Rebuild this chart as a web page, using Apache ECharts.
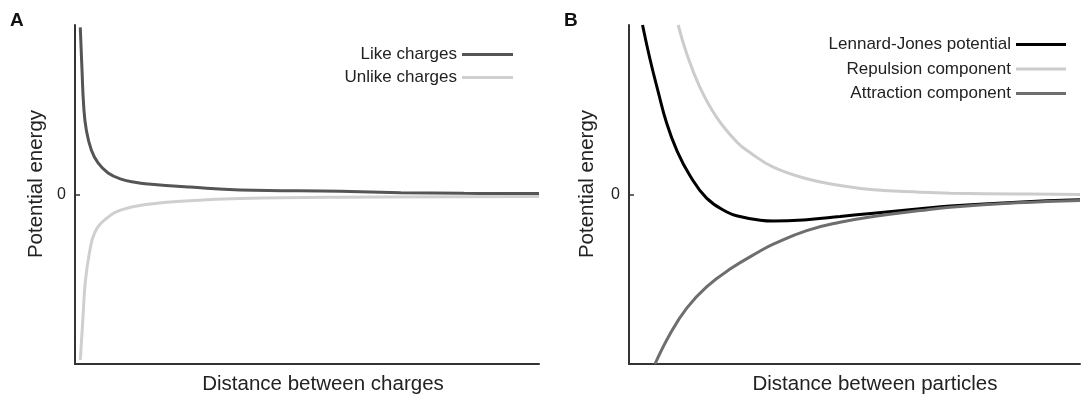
<!DOCTYPE html>
<html>
<head>
<meta charset="utf-8">
<script src="https://cdn.jsdelivr.net/npm/echarts@6/dist/echarts.min.js"></script>
<style>
html,body{margin:0;padding:0;background:#fff;}
#chart{width:1081px;height:397px;}
</style>
</head>
<body>
<div id="chart"></div>
<script>
// ---- data (x: 0..100 across axis, y: -1..1) ----
const likeCharges = [[1.14,0.986],[1.51,0.735],[1.88,0.518],[2.44,0.380],[3.52,0.263],[4.97,0.186],[7.13,0.127],[9.94,0.091],[12.9,0.072],[15.8,0.062],[24.8,0.044],[35.6,0.027],[57.2,0.019],[70.2,0.011],[83.8,0.007],[100,0.006]];
const unlikeCharges = [[1.14,-0.976],[1.73,-0.721],[2.22,-0.515],[3.15,-0.338],[4.23,-0.227],[6.39,-0.150],[9.98,-0.091],[15.8,-0.058],[24.8,-0.037],[35.6,-0.024],[57.2,-0.016],[100,-0.012]];
const lennardJones = [[3.0,1.0],[4.66,0.798],[6.5,0.603],[8.36,0.420],[10.6,0.260],[13.5,0.112],[17.2,-0.021],[21.7,-0.103],[24.6,-0.130],[29.1,-0.152],[32.0,-0.157],[39.4,-0.149],[46.8,-0.130],[54.2,-0.110],[64.5,-0.084],[71.2,-0.068],[86.0,-0.045],[100,-0.031]];
const repulsion = [[10.9,1.0],[12.8,0.831],[15.7,0.634],[19.4,0.457],[23.9,0.31],[26.8,0.248],[32.0,0.161],[39.4,0.093],[46.8,0.053],[54.2,0.028],[64.5,0.014],[71.2,0.008],[86.0,0.003],[100,0.0]];
const attraction = [[5.76,-1.0],[9.1,-0.823],[12.8,-0.67],[17.2,-0.545],[22.4,-0.44],[29.0,-0.335],[32.0,-0.293],[39.4,-0.213],[46.8,-0.164],[54.2,-0.130],[64.5,-0.095],[71.2,-0.075],[86.0,-0.049],[100,-0.035]];
const yTickValues = [0];
const panelLabels = ['A','B'];
const xTitles = ['Distance between charges','Distance between particles'];
const yTitle = 'Potential energy';
const legendA = ['Like charges','Unlike charges'];
const legendB = ['Lennard-Jones potential','Repulsion component','Attraction component'];

const FONT = '"Liberation Sans", Arial, Helvetica, sans-serif';
const AX = '#333';

function xAxis(idx){
  return {type:'value', gridIndex:idx, min:0, max:100,
    axisLine:{show:true,onZero:false,lineStyle:{color:AX,width:2}},
    axisTick:{show:false}, axisLabel:{show:false}, splitLine:{show:false}};
}
function yAxis(idx){
  return {type:'value', gridIndex:idx, min:-1, max:1, interval:1,
    axisLine:{show:true,onZero:false,lineStyle:{color:AX,width:2}},
    axisTick:{show:true,inside:true,length:5,customValues:yTickValues,lineStyle:{color:AX,width:1.5}},
    axisLabel:{show:true,customValues:yTickValues,margin:9,fontSize:16,color:'#222',fontFamily:FONT},
    splitLine:{show:false}};
}
function line(name, data, color, idx){
  return {type:'line', name:name, data:data, xAxisIndex:idx, yAxisIndex:idx,
    showSymbol:false, smooth:0.45, clip:true,
    lineStyle:{color:color,width:3}, itemStyle:{color:color}};
}

const chart = echarts.init(document.getElementById('chart'), null, {renderer:'canvas'});
chart.setOption({
  animation:false,
  backgroundColor:'#fff',
  textStyle:{fontFamily:FONT},
  grid:[
    {left:75, right:542, top:25, bottom:33},
    {left:629, right:1, top:25, bottom:33}
  ],
  xAxis:[xAxis(0), xAxis(1)],
  yAxis:[yAxis(0), yAxis(1)],
  legend:[
    {data:legendA, orient:'vertical', right:563, top:41, align:'right', icon:'rect',
     itemWidth:51, itemHeight:3, itemGap:6, textStyle:{fontSize:17,color:'#222',fontFamily:FONT}},
    {data:legendB, orient:'vertical', right:10, top:31, align:'right', icon:'rect',
     itemWidth:50, itemHeight:3, itemGap:7.5, textStyle:{fontSize:17,color:'#222',fontFamily:FONT}}
  ],
  series:[
    line(legendA[0], likeCharges, '#555555', 0),
    line(legendA[1], unlikeCharges, '#cfcfcf', 0),
    line(legendB[0], lennardJones, '#000000', 1),
    line(legendB[1], repulsion, '#cccccc', 1),
    line(legendB[2], attraction, '#6e6e6e', 1)
  ],
  graphic:[
    {type:'text', left:10, top:11, style:{text:panelLabels[0], font:'bold 19px '+FONT, fill:'#111'}},
    {type:'text', left:564, top:11, style:{text:panelLabels[1], font:'bold 19px '+FONT, fill:'#111'}},
    {type:'text', x:323, y:384, style:{text:xTitles[0], font:'20.5px '+FONT, fill:'#222', align:'center', verticalAlign:'middle'}},
    {type:'text', x:875, y:384, style:{text:xTitles[1], font:'20.5px '+FONT, fill:'#222', align:'center', verticalAlign:'middle'}},
    {type:'text', x:36, y:184, rotation:Math.PI/2, style:{text:yTitle, font:'20.5px '+FONT, fill:'#222', align:'center', verticalAlign:'middle'}},
    {type:'text', x:587, y:184, rotation:Math.PI/2, style:{text:yTitle, font:'20.5px '+FONT, fill:'#222', align:'center', verticalAlign:'middle'}}
  ]
});
</script>
</body>
</html>
